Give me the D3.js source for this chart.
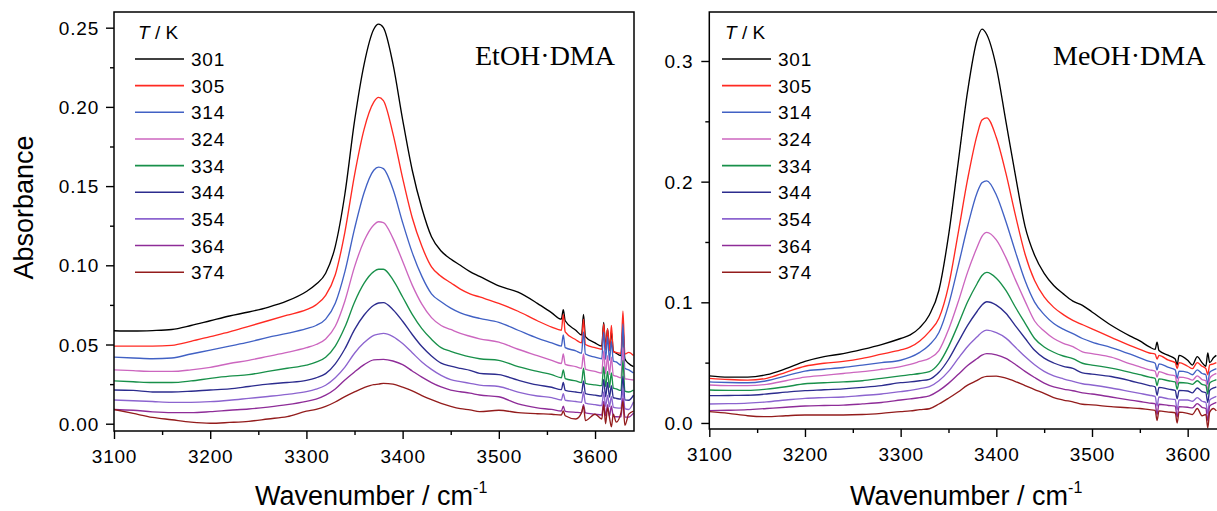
<!DOCTYPE html>
<html><head><meta charset="utf-8">
<script src="https://cdn.jsdelivr.net/npm/d3@7"></script>
<style>
html,body{margin:0;padding:0;background:#fff;}
svg{display:block;}
text{font-family:"Liberation Sans",Arial,sans-serif;fill:#000;}
</style></head><body>
<svg id="chart" width="1217" height="511"></svg>
<script>
// ---------- shared ----------
const temps = ["301","305","314","324","334","344","354","364","374"];
const colors = ["#000000","#ff2a22","#4161c4","#cc66bf","#18904a","#2c2c8e","#8c64cf","#8e2c98","#931c1c"];
const xTicks = [3100,3200,3300,3400,3500,3600];
const xMinor = [3150,3250,3350,3450,3550];

// ---------- EtOH·DMA panel ----------
const etohTicksY = [0,0.05,0.10,0.15,0.20,0.25];
const etohMinorY = [0.025,0.075,0.125,0.175,0.225];
const etoh_wn = [3100,3120,3140,3160,3180,3200,3220,3240,3260,3280,
 3300,3310,3320,3330,3340,3350,3360,3370,3375,3380,3390,3400,3410,3420,3430,3440,3450,3460,3470,3480,
 3500,3520,3540,3555,3565,3567,3569,3580,3586,3588,3590,3600,3607,3609,3611,3613,3615,3617,3619,3622,3627,3629,3631,3635,3640];
const etoh_301 = [0.0587,0.0585,0.0588,0.0595,0.062,0.065,0.068,0.0705,0.0735,0.0775,
 0.0835,0.088,0.095,0.112,0.145,0.191,0.227,0.249,0.2522,0.250,0.227,0.192,0.160,0.136,0.118,0.109,0.104,0.100,0.096,0.093,
 0.087,0.083,0.076,0.070,0.066,0.072,0.065,0.059,0.056,0.069,0.055,0.051,0.049,0.064,0.048,0.060,0.047,0.058,0.046,0.0445,0.043,0.060,0.041,0.038,0.036];
const etoh_305 = [0.049,0.049,0.049,0.0495,0.052,0.055,0.058,0.0615,0.065,0.0685,
 0.072,0.075,0.081,0.094,0.121,0.157,0.186,0.203,0.206,0.204,0.183,0.155,0.130,0.112,0.099,0.093,0.089,0.085,0.082,0.080,
 0.076,0.071,0.065,0.061,0.059,0.069,0.058,0.053,0.051,0.066,0.050,0.048,0.047,0.063,0.0465,0.060,0.046,0.062,0.0455,0.045,0.0445,0.071,0.044,0.045,0.043];
const etoh_314 = [0.042,0.0415,0.041,0.0415,0.044,0.0465,0.049,0.0515,0.0545,0.057,
 0.060,0.062,0.066,0.076,0.096,0.123,0.146,0.160,0.162,0.161,0.148,0.127,0.108,0.093,0.082,0.077,0.073,0.070,0.068,0.0665,
 0.064,0.059,0.054,0.051,0.049,0.056,0.048,0.046,0.0445,0.058,0.044,0.042,0.041,0.058,0.0405,0.055,0.040,0.052,0.0395,0.039,0.037,0.063,0.035,0.034,0.032];
const etoh_324 = [0.034,0.0335,0.033,0.033,0.034,0.0356,0.038,0.040,0.0425,0.045,
 0.048,0.050,0.0535,0.0615,0.0775,0.099,0.1155,0.1255,0.1275,0.127,0.117,0.1025,0.0875,0.0755,0.067,0.062,0.0595,0.057,0.0552,0.0536,
 0.0515,0.047,0.043,0.040,0.038,0.044,0.0375,0.036,0.035,0.044,0.0345,0.033,0.032,0.046,0.0315,0.043,0.031,0.042,0.0305,0.030,0.029,0.048,0.0285,0.028,0.0276];
const etoh_334 = [0.027,0.0265,0.026,0.026,0.027,0.0286,0.030,0.031,0.033,0.035,
 0.037,0.0388,0.042,0.049,0.061,0.0767,0.0887,0.096,0.0975,0.0975,0.0908,0.080,0.069,0.060,0.0533,0.048,0.0457,0.0438,0.0422,0.041,
 0.040,0.036,0.033,0.031,0.029,0.034,0.0285,0.027,0.026,0.035,0.0255,0.0245,0.024,0.036,0.0235,0.033,0.023,0.032,0.0225,0.022,0.021,0.040,0.0205,0.020,0.0213];
const etoh_344 = [0.0213,0.021,0.020,0.020,0.0205,0.0213,0.022,0.0235,0.025,0.026,
 0.0274,0.029,0.0316,0.0378,0.0473,0.0594,0.0686,0.0748,0.0762,0.0764,0.072,0.0647,0.0563,0.0487,0.0428,0.0383,0.0363,0.0349,0.0337,0.0318,
 0.031,0.0275,0.0245,0.023,0.0215,0.026,0.021,0.020,0.0195,0.027,0.019,0.018,0.0175,0.028,0.017,0.026,0.0168,0.024,0.0165,0.016,0.0155,0.030,0.015,0.0148,0.018];
const etoh_354 = [0.015,0.0145,0.014,0.0135,0.0135,0.0139,0.0148,0.016,0.0172,0.0185,
 0.0202,0.0218,0.0243,0.029,0.0357,0.0445,0.0512,0.0558,0.0565,0.057,0.055,0.0506,0.0448,0.039,0.0343,0.0305,0.0278,0.0266,0.0255,0.0244,
 0.0235,0.020,0.0175,0.0165,0.015,0.019,0.0148,0.014,0.0135,0.020,0.013,0.012,0.0115,0.020,0.011,0.018,0.0108,0.017,0.0105,0.010,0.0098,0.022,0.0095,0.009,0.0139];
const etoh_364 = [0.009,0.0085,0.0075,0.007,0.007,0.0076,0.0085,0.0093,0.0105,0.012,
 0.0141,0.0155,0.018,0.0219,0.0276,0.0327,0.0373,0.0403,0.0405,0.0406,0.0396,0.0373,0.0333,0.0294,0.026,0.0232,0.0212,0.0202,0.0193,0.0181,
 0.017,0.0125,0.010,0.009,0.008,0.011,0.0078,0.0072,0.007,0.012,0.0068,0.006,0.0055,0.014,0.005,0.012,0.0048,0.011,0.0046,0.0044,0.0043,0.016,0.0042,0.0042,0.0067];
const etoh_374 = [0.009,0.0065,0.004,0.0025,0.001,0.0003,0.0008,0.0015,0.003,0.0045,
 0.0079,0.0091,0.0109,0.0137,0.0171,0.0201,0.0228,0.0247,0.025,0.0255,0.025,0.0231,0.0208,0.0178,0.0152,0.0129,0.011,0.0095,0.0087,0.0076,
 0.0085,0.007,0.0063,0.006,0.0055,0.008,0.005,0.003,0.007,0.011,0.002,0.006,0.003,0.012,0.000,0.010,0.004,-0.002,0.006,0.001,0.007,0.014,-0.001,0.006,0.008];

// ---------- MeOH·DMA panel ----------
const meohTicksY = [0,0.1,0.2,0.3];
const meohMinorY = [0.05,0.15,0.25];
const meoh_wn = [3100,3120,3140,3160,3180,3200,3220,3240,3260,3280,
 3300,3310,3320,3330,3340,3350,3360,3370,3380,3385,3390,3400,3410,3420,3430,3440,3450,3460,3470,3480,
 3490,3500,3520,3540,3550,3560,3566,3568,3570,3580,3587,3589,3591,3600,3605,3610,3615,3619,3621,3623,3627,3630];
const meoh_301 = [0.039,0.038,0.038,0.040,0.045,0.051,0.055,0.0575,0.061,0.065,
 0.070,0.073,0.079,0.0895,0.110,0.155,0.215,0.275,0.318,0.3264,0.322,0.295,0.250,0.205,0.163,0.139,0.124,0.114,0.107,0.101,
 0.0975,0.092,0.081,0.072,0.068,0.063,0.061,0.067,0.060,0.056,0.053,0.048,0.056,0.052,0.048,0.055,0.050,0.047,0.058,0.050,0.054,0.056];
const meoh_305 = [0.037,0.036,0.0355,0.037,0.042,0.047,0.0495,0.051,0.0535,0.057,
 0.0605,0.063,0.068,0.0757,0.0867,0.1134,0.1568,0.202,0.239,0.251,0.2529,0.2366,0.207,0.172,0.140,0.118,0.1045,0.0958,0.0898,0.085,
 0.0815,0.078,0.071,0.064,0.061,0.058,0.057,0.053,0.056,0.052,0.050,0.045,0.050,0.047,0.045,0.050,0.047,0.045,0.040,0.048,0.049,0.050];
const meoh_314 = [0.034,0.0335,0.0333,0.035,0.039,0.043,0.0445,0.046,0.048,0.050,
 0.052,0.0545,0.0585,0.0646,0.075,0.0977,0.1296,0.163,0.191,0.199,0.2007,0.189,0.167,0.1418,0.118,0.1002,0.0898,0.0825,0.0777,0.074,
 0.070,0.067,0.0625,0.057,0.054,0.051,0.0495,0.044,0.049,0.046,0.044,0.037,0.043,0.042,0.040,0.044,0.041,0.040,0.032,0.042,0.044,0.045];
const meoh_324 = [0.0315,0.031,0.031,0.032,0.035,0.038,0.0395,0.041,0.0425,0.0445,
 0.0467,0.0485,0.051,0.0536,0.060,0.0773,0.100,0.125,0.1458,0.1547,0.158,0.1517,0.137,0.1186,0.101,0.0845,0.0762,0.070,0.066,0.0632,
 0.059,0.0575,0.0545,0.049,0.0465,0.044,0.043,0.038,0.0425,0.040,0.039,0.032,0.038,0.037,0.0355,0.039,0.036,0.035,0.027,0.037,0.040,0.041];
const meoh_334 = [0.0273,0.027,0.027,0.028,0.030,0.0325,0.0333,0.034,0.035,0.037,
 0.039,0.040,0.041,0.0425,0.0494,0.0633,0.0813,0.1004,0.1156,0.1222,0.1248,0.120,0.1098,0.0959,0.0828,0.070,0.063,0.0586,0.0555,0.0534,
 0.0495,0.048,0.0455,0.042,0.040,0.038,0.037,0.031,0.0365,0.035,0.034,0.028,0.0335,0.033,0.032,0.035,0.032,0.031,0.024,0.033,0.035,0.036];
const meoh_344 = [0.0226,0.0228,0.023,0.024,0.0255,0.0268,0.0275,0.0283,0.0295,0.031,
 0.0334,0.034,0.035,0.0362,0.042,0.0526,0.0668,0.0809,0.0926,0.0978,0.1005,0.0977,0.0909,0.0805,0.0702,0.0602,0.0537,0.0497,0.0469,0.0452,
 0.0415,0.0405,0.0385,0.035,0.033,0.031,0.030,0.023,0.0295,0.028,0.027,0.020,0.027,0.0265,0.025,0.029,0.026,0.025,0.017,0.027,0.029,0.030];
const meoh_354 = [0.0157,0.016,0.0165,0.0175,0.019,0.0204,0.021,0.0215,0.0228,0.024,
 0.026,0.027,0.0285,0.0301,0.035,0.0428,0.0533,0.0634,0.0714,0.0752,0.0769,0.0748,0.0703,0.0627,0.055,0.0482,0.0427,0.039,0.0366,0.0345,
 0.0325,0.0315,0.029,0.026,0.0245,0.023,0.022,0.014,0.0215,0.020,0.0195,0.011,0.019,0.019,0.018,0.021,0.018,0.017,0.008,0.019,0.021,0.022];
const meoh_364 = [0.0102,0.0105,0.011,0.012,0.013,0.0141,0.0145,0.0148,0.0158,0.017,
 0.019,0.020,0.021,0.0225,0.0268,0.0328,0.0401,0.0476,0.0534,0.0562,0.0575,0.0565,0.0535,0.0485,0.0428,0.0377,0.0331,0.0299,0.0281,0.0267,
 0.025,0.024,0.0215,0.019,0.0178,0.0165,0.016,0.007,0.0155,0.0145,0.014,0.005,0.0135,0.013,0.0125,0.016,0.013,0.012,0.002,0.014,0.016,0.017];
const meoh_374 = [0.0094,0.008,0.006,0.0052,0.006,0.0066,0.0066,0.0066,0.007,0.008,
 0.0094,0.010,0.011,0.0118,0.0157,0.0205,0.0257,0.0313,0.0353,0.0375,0.0386,0.0388,0.0371,0.0343,0.031,0.0277,0.0246,0.021,0.019,0.0175,
 0.0155,0.015,0.0135,0.0125,0.012,0.011,0.0105,0.002,0.010,0.009,0.0085,0.000,0.009,0.008,0.007,0.012,0.006,0.007,-0.004,0.009,0.012,0.010];

// ---------- drawing ----------
const SANS = '"Liberation Sans",Arial,sans-serif';
const SERIF = '"Liberation Serif","Times New Roman",serif';
const svg = d3.select("#chart");
svg.append("rect").attr("width",1217).attr("height",511).attr("fill","#fff");

function panel(cfg){
  const x = d3.scaleLinear().domain(cfg.xDomain).range([cfg.left, cfg.right]);
  const y = d3.scaleLinear().domain(cfg.yDomain).range([cfg.bottom, cfg.top]);
  const g = svg.append("g");
  g.append("clipPath").attr("id", cfg.id).append("rect")
    .attr("x", cfg.left).attr("y", cfg.top)
    .attr("width", cfg.right - cfg.left).attr("height", cfg.bottom - cfg.top);

  const line = d3.line().x((d,i)=>x(cfg.wn[i])).y(d=>y(d)).curve(d3.curveMonotoneX);
  const curves = g.append("g").attr("clip-path", `url(#${cfg.id})`);
  cfg.series.forEach((s,k)=>{
    curves.append("path").attr("d", line(s)).attr("fill","none")
      .attr("stroke", colors[k]).attr("stroke-width", 1.35).attr("stroke-linejoin","round");
  });

  // frame
  g.append("rect").attr("x", cfg.left).attr("y", cfg.top)
    .attr("width", cfg.right - cfg.left).attr("height", cfg.bottom - cfg.top)
    .attr("fill","none").attr("stroke","#000").attr("stroke-width",1.5);

  // x axis
  const xa = g.append("g").attr("transform", `translate(0,${cfg.bottom})`)
    .call(d3.axisBottom(x).tickValues(xTicks).tickSize(8).tickSizeOuter(0).tickFormat(d3.format("d")));
  const xm = g.append("g").attr("transform", `translate(0,${cfg.bottom})`)
    .call(d3.axisBottom(x).tickValues(xMinor).tickSize(4).tickSizeOuter(0).tickFormat(""));
  // y axis
  const ya = g.append("g").attr("transform", `translate(${cfg.left},0)`)
    .call(d3.axisLeft(y).tickValues(cfg.yTicks).tickSize(8).tickSizeOuter(0).tickFormat(d3.format(cfg.yFmt)));
  const ym = g.append("g").attr("transform", `translate(${cfg.left},0)`)
    .call(d3.axisLeft(y).tickValues(cfg.yMinor).tickSize(4).tickSizeOuter(0).tickFormat(""));
  [xa,xm,ya,ym].forEach(a=>{
    a.select(".domain").remove();
    a.selectAll(".tick line").attr("stroke","#000").attr("stroke-width",1.4);
  });
  xa.selectAll(".tick text").attr("y", 32).attr("dy", 0)
    .style("font-size", "19px").style("letter-spacing", "0.8px")
    .style("font-family", SANS).attr("fill","#000");
  ya.selectAll(".tick text").attr("x", cfg.ylabX).attr("dy", "0.35em")
    .style("font-size", "19px").style("letter-spacing", "0.8px")
    .style("font-family", SANS).attr("fill","#000");

  // legend
  const lg = g.append("g");
  const t = lg.append("text").attr("x", cfg.legX + 3).attr("y", 39).style("font-size", "19px");
  t.append("tspan").style("font-style","italic").text("T");
  t.append("tspan").text(" / K");
  const rows = lg.selectAll("g.row").data(temps).join("g").attr("class","row")
    .attr("transform", (d,i)=>`translate(0,${59 + i*26.65})`);
  rows.append("line").attr("x1", cfg.legX).attr("x2", cfg.legX + 49).attr("y1",0).attr("y2",0)
    .attr("stroke", (d,i)=>colors[i]).attr("stroke-width", 1.6);
  rows.append("text").attr("x", cfg.legX + 56).attr("y", 7).style("font-size", "19px")
    .style("letter-spacing","0.8px").text(d=>d);

  // panel name (serif)
  g.append("text").attr("x", cfg.nameX).attr("y", 65)
    .style("font-family", SERIF).style("font-size", "28px")
    .text(cfg.name);

  // x title
  const xt = g.append("text").attr("x", cfg.xTitleX).attr("y", 505).style("font-size", "27px");
  xt.append("tspan").text("Wavenumber / cm");
  xt.append("tspan").attr("dy", -12).style("font-size", "16px").text("-1");
}

panel({
  id:"clipL", left:114, right:634, top:12, bottom:431,
  xDomain:[3100,3640.5], yDomain:[-0.0046,0.2599],
  wn:etoh_wn, series:[etoh_301,etoh_305,etoh_314,etoh_324,etoh_334,etoh_344,etoh_354,etoh_364,etoh_374],
  yTicks:etohTicksY, yMinor:etohMinorY, yFmt:".2f", ylabX:-15,
  legX:135, nameX:475, name:"EtOH\u00B7DMA", xTitleX:255
});
panel({
  id:"clipR", left:709.3, right:1218, top:12, bottom:429,
  xDomain:[3100,3631.7], yDomain:[-0.005,0.3406],
  wn:meoh_wn, series:[meoh_301,meoh_305,meoh_314,meoh_324,meoh_334,meoh_344,meoh_354,meoh_364,meoh_374],
  yTicks:meohTicksY, yMinor:meohMinorY, yFmt:".1f", ylabX:-16,
  legX:722, nameX:1053, name:"MeOH\u00B7DMA", xTitleX:850
});

// y title
svg.append("text").attr("transform","translate(33,207.5) rotate(-90)")
  .attr("text-anchor","middle").style("font-size","27px").text("Absorbance");
</script>
</body></html>
